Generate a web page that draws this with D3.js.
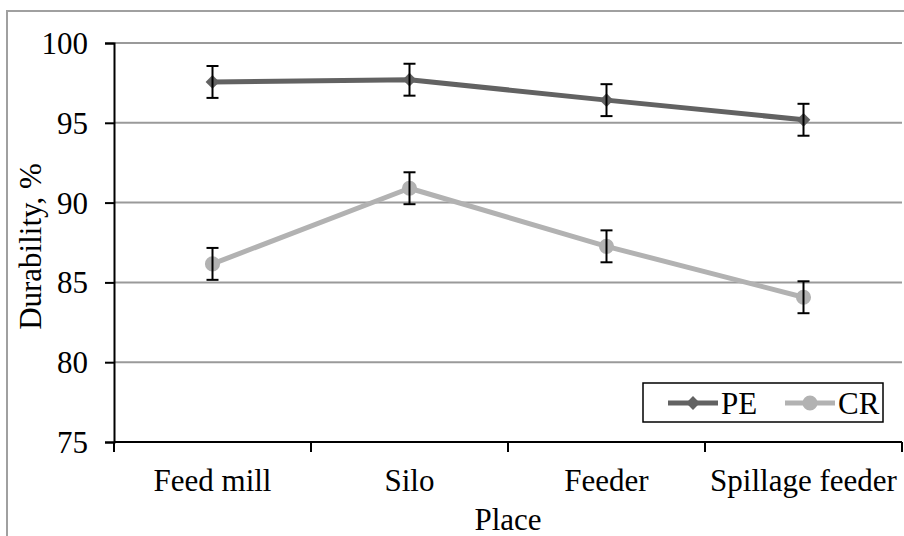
<!DOCTYPE html>
<html><head><meta charset="utf-8">
<script src="https://cdn.jsdelivr.net/npm/d3@7"></script>
<style>body{margin:0;background:#fff}svg{display:block}svg text{font-family:"Liberation Serif","Times New Roman",serif !important;fill:#000}</style>
</head><body><svg id="c" width="904" height="536"></svg>
<script>
const categories = ["Feed mill", "Silo", "Feeder", "Spillage feeder"];
const peValues = [97.56, 97.7, 96.42, 95.19];
const crValues = [86.16, 90.9, 87.26, 84.07];
const peErrors = [1, 1, 1, 1];
const crErrors = [1, 1, 1, 1];
const yTicks = [75, 80, 85, 90, 95, 100];
const seriesNames = ["PE", "CR"];

const FONT = "'Liberation Serif','Times New Roman',serif";
const svg = d3.select("#c");
const W = 904, H = 536;
const m = {left:114, right:902, top:43, bottom:442};
svg.append("rect").attr("width",W).attr("height",H).attr("fill","#fff");
// outer border
svg.append("path").attr("d",`M7,${H} L7,11 L${W},11`).attr("fill","none").attr("stroke","#a0a0a0").attr("stroke-width",2);

const x = d3.scaleBand().domain(categories).range([m.left, m.right]).padding(0);
const y = d3.scaleLinear().domain([75,100]).range([m.bottom, m.top]);
const cx = d => x(d) + x.bandwidth()/2;

// gridlines
svg.append("g").selectAll("line").data(yTicks.filter(t=>t>75)).join("line")
  .attr("x1",m.left).attr("x2",m.right).attr("y1",d=>y(d)).attr("y2",d=>y(d))
  .attr("stroke","#9a9a9a").attr("stroke-width",2);

// y axis
const ya = svg.append("g").attr("transform",`translate(${m.left},0)`)
  .call(d3.axisLeft(y).tickValues(yTicks).tickSize(9).tickPadding(17).tickFormat(d3.format("d")));
ya.attr("font-family",null).attr("font-size",null);
ya.select(".domain").attr("stroke","#000").attr("stroke-width",2);
ya.selectAll(".tick line").attr("stroke","#000").attr("stroke-width",2);
ya.selectAll("text").style("font-size","31px").style("font-family",FONT).attr("fill","#000").attr("dy","0.34em");

// x axis
const xa = svg.append("g").attr("transform",`translate(0,${m.bottom})`)
  .call(d3.axisBottom(x).tickSize(0).tickPadding(0));
xa.attr("font-family",null).attr("font-size",null);
xa.select(".domain").attr("stroke","#000").attr("stroke-width",2).attr("d",`M${m.left},0H${m.right}`);
xa.selectAll(".tick line").remove();
xa.selectAll("text").style("font-size","31px").style("font-family",FONT).attr("fill","#000").attr("y",49).attr("dy",0);
// x boundary ticks
const bounds = categories.map(c=>x(c)).concat([m.right]);
svg.append("g").selectAll("line").data(bounds).join("line")
  .attr("x1",d=>d).attr("x2",d=>d).attr("y1",m.bottom).attr("y2",m.bottom+10)
  .attr("stroke","#000").attr("stroke-width",2);

// axis titles
svg.append("text").attr("x",(m.left+m.right)/2).attr("y",530).attr("text-anchor","middle").style("font-size","31px").style("font-family",FONT).text("Place");
svg.append("text").attr("transform",`translate(41,${(m.top+m.bottom)/2+4}) rotate(-90)`).attr("text-anchor","middle").style("font-size","31px").style("font-family",FONT).text("Durability, %");

const diamond = d3.symbol().type(d3.symbolSquare).size(95);
const circle = d3.symbol().type(d3.symbolCircle).size(180);
const series = [
  {name:seriesNames[0], vals:peValues, errs:peErrors, color:"#626262", sym:diamond, rot:45},
  {name:seriesNames[1], vals:crValues, errs:crErrors, color:"#b2b2b2", sym:circle, rot:0}
];
const line = d3.line().x((d,i)=>cx(categories[i])).y(d=>y(d));
series.forEach(s=>{
  svg.append("path").datum(s.vals).attr("d",line).attr("fill","none").attr("stroke",s.color).attr("stroke-width",5).attr("stroke-linejoin","round");
  svg.append("g").selectAll("path").data(s.vals).join("path")
    .attr("transform",(d,i)=>`translate(${cx(categories[i])},${y(d)}) rotate(${s.rot})`)
    .attr("d",s.sym()).attr("fill",s.color);
  const eg = svg.append("g").attr("stroke","#000").attr("stroke-width",2);
  s.vals.forEach((v,i)=>{
    const px = cx(categories[i]);
    eg.append("line").attr("x1",px).attr("x2",px).attr("y1",y(v+s.errs[i])).attr("y2",y(v-s.errs[i]));
    eg.append("line").attr("x1",px-6).attr("x2",px+6).attr("y1",y(v+s.errs[i])).attr("y2",y(v+s.errs[i]));
    eg.append("line").attr("x1",px-6).attr("x2",px+6).attr("y1",y(v-s.errs[i])).attr("y2",y(v-s.errs[i]));
  });
});

// legend
const lg = svg.append("g");
lg.append("rect").attr("x",643).attr("y",383).attr("width",240).attr("height",39).attr("fill","#fff").attr("stroke","#000").attr("stroke-width",1.5);
const lx = [668, 785];
series.forEach((s,i)=>{
  lg.append("line").attr("x1",lx[i]).attr("x2",lx[i]+50).attr("y1",403).attr("y2",403).attr("stroke",s.color).attr("stroke-width",5);
  lg.append("path").attr("transform",`translate(${lx[i]+25},403) rotate(${s.rot})`).attr("d",s.sym()).attr("fill",s.color);
  lg.append("text").attr("x",lx[i]+53).attr("y",414).style("font-size","31px").style("font-family",FONT).text(s.name);
});
</script></body></html>
